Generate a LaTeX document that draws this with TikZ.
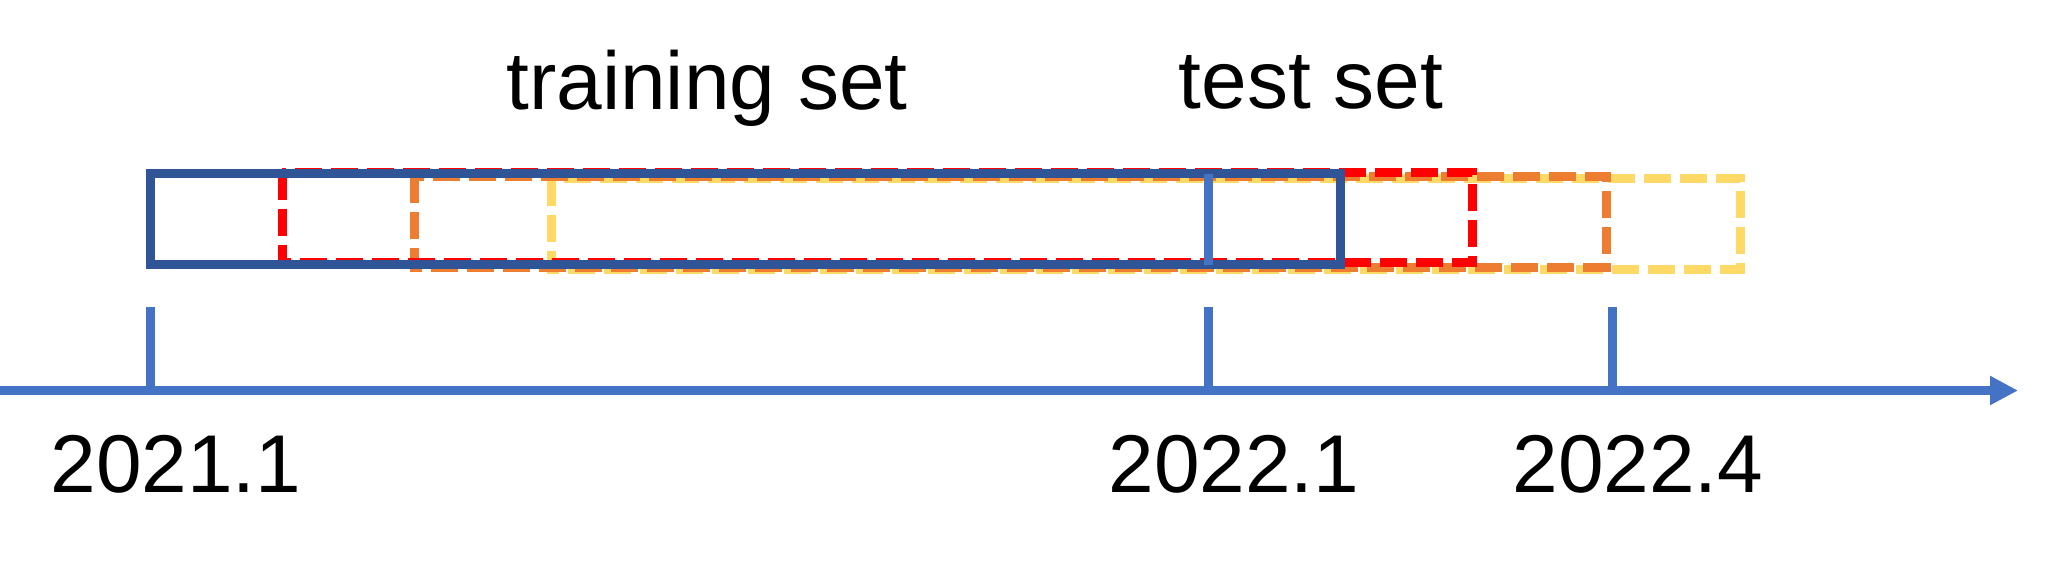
\documentclass[tikz,border=0pt]{standalone}
\usepackage{fontspec}
\setmainfont{Liberation Sans}
\usetikzlibrary{arrows.meta}
\definecolor{rectblue}{HTML}{2F5597}
\definecolor{axisblue}{HTML}{4472C4}
\definecolor{setred}{HTML}{FF0000}
\definecolor{setorange}{HTML}{ED7D31}
\definecolor{setyellow}{HTML}{FFD966}
\tikzset{
  lw/.style={line width=4.5pt},
  sysdash/.style={lw, dash pattern=on 13.5pt off 4.5pt, line cap=butt},
  lbl/.style={anchor=base, inner sep=0pt, font=\fontsize{41}{49}\selectfont},
  axisline/.style={lw, draw=axisblue},
}
\begin{document}
\begin{tikzpicture}[x=0.5pt,y=-0.5pt]
\useasboundingbox (0,0) rectangle (2048,563);
% axis
\coordinate (axL) at (0,390.5);
\coordinate (axR) at (2018,390.5);
\draw[axisline, -{Triangle[length=14pt,width=13.7pt]}] (axL) -- (axR);
% ticks
\coordinate (t1top) at (150.6,307);
\coordinate (t1bot) at (150.6,390.5);
\coordinate (t2top) at (1208,307);
\coordinate (t2bot) at (1208,390.5);
\coordinate (t3top) at (1612,307);
\coordinate (t3bot) at (1612,390.5);
\draw[axisline] (t1top) -- (t1bot);
\draw[axisline] (t2top) -- (t2bot);
\draw[axisline] (t3top) -- (t3bot);
% windows
\coordinate (yA) at (551,178.5);  \coordinate (yB) at (1740,269.5);
\coordinate (oA) at (414,176);    \coordinate (oB) at (1606,267);
\coordinate (rA) at (282,172.5);  \coordinate (rB) at (1472,262.5);
\coordinate (bA) at (150.6,173.5);\coordinate (bB) at (1340,264.5);
\draw[sysdash, setyellow] (yA) rectangle (yB);
\draw[sysdash, setorange] (oA) rectangle (oB);
\draw[sysdash, setred] (rA) rectangle (rB);
\draw[lw, rectblue, line join=miter] (bA) rectangle (bB);
\coordinate (splitT) at (1208,173.5);
\coordinate (splitB) at (1208,264.5);
\draw[lw, axisblue] (splitT) -- (splitB);
% labels
\node[lbl] (train) at (707,109) {training set};
\node[lbl] (test) at (1311,108) {test set};
\node[lbl] (d1) at (176,492) {2021.1};
\node[lbl] (d2) at (1234,492) {2022.1};
\node[lbl] (d3) at (1638,492) {2022.4};
\end{tikzpicture}
\end{document}
